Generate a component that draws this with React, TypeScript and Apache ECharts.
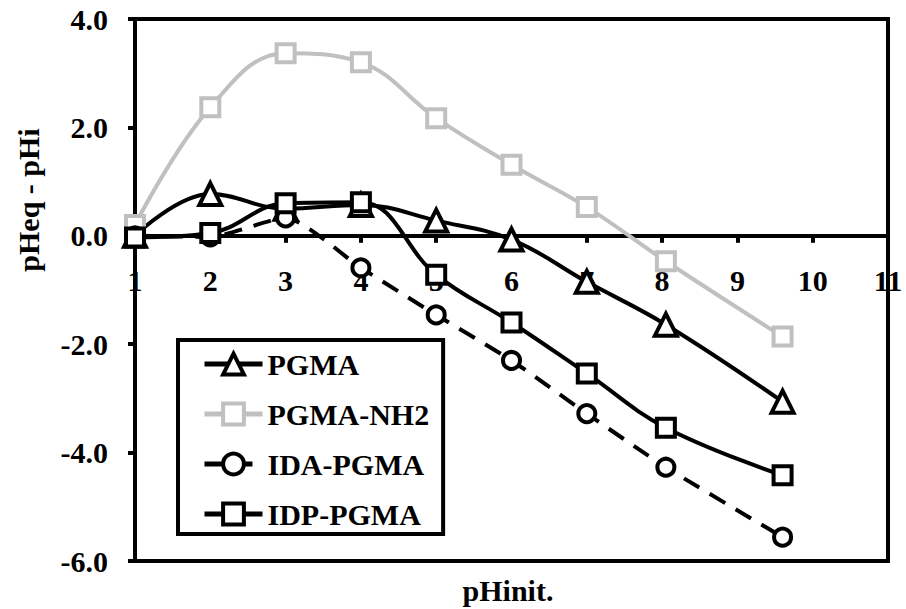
import React, { useEffect, useRef } from "react";
import * as echarts from "echarts";

const xPGMA = [1, 2, 3, 4, 5, 6, 7, 8.05, 9.6];
const yPGMA = [0, 0.77, 0.5, 0.57, 0.28, -0.07, -0.85, -1.64, -3.06];
const yPGMANH2 = [0.2, 2.37, 3.37, 3.2, 2.17, 1.31, 0.53, -0.47, -1.86];
const yIDA = [0, -0.02, 0.33, -0.59, -1.46, -2.3, -3.28, -4.27, -5.56];
const yIDP = [-0.03, 0.05, 0.6, 0.62, -0.72, -1.6, -2.54, -3.54, -4.42];

const seriesNames = ["PGMA", "PGMA-NH2", "IDA-PGMA", "IDP-PGMA"];
const yTickMin = -6;
const yTickMax = 4;
const xTickMin = 1;
const xTickMax = 11;

const FONT = "Liberation Serif";
const GRAY = "#c0c0c0";

function pairs(xs: number[], ys: number[]) {
  return xs.map((x, i) => [x, ys[i]]);
}

const GRID_TOP = 19;
const GRID_BOTTOM = 48;
const CHART_H = 609;

export default function App() {
  const ref = useRef<HTMLDivElement>(null);
  useEffect(() => {
    if (!ref.current) return;
    const chart = echarts.init(ref.current, null, { renderer: "svg" });
    const textBase = { fontFamily: FONT, fontWeight: "bold" as const, fontSize: 30, color: "#000" };
    const plotH = CHART_H - GRID_TOP - GRID_BOTTOM;
    const zeroOffset = -(plotH * (0 - yTickMin)) / (yTickMax - yTickMin);
    chart.setOption({
      animation: false,
      backgroundColor: "#fff",
      grid: {
        left: 135,
        top: GRID_TOP,
        right: 18,
        bottom: GRID_BOTTOM,
        show: true,
        borderColor: "#000",
        borderWidth: 4,
      },
      xAxis: {
        type: "value",
        min: xTickMin,
        max: xTickMax,
        interval: 1,
        offset: zeroOffset,
        axisLine: { onZero: false, lineStyle: { color: "#000", width: 4 } },
        axisTick: { show: true, length: 7, lineStyle: { color: "#000", width: 4 } },
        axisLabel: { ...textBase, margin: 30, showMinLabel: true, showMaxLabel: true },
        splitLine: { show: false },
      },
      yAxis: {
        type: "value",
        min: yTickMin,
        max: yTickMax,
        interval: 2,
        axisLine: { onZero: false, lineStyle: { color: "#000", width: 4 } },
        axisTick: { show: true, length: 7, lineStyle: { color: "#000", width: 4 } },
        axisLabel: { ...textBase, margin: 27, formatter: (v: number) => v.toFixed(1) },
        splitLine: { show: false },
      },
      legend: {
        orient: "vertical",
        left: 178,
        top: 340,
        itemWidth: 58,
        itemHeight: 26,
        itemGap: 20,
        padding: [9, 14, 5, 24],
        borderColor: "#000",
        borderWidth: 4,
        backgroundColor: "#fff",
        textStyle: { ...textBase },
        itemStyle: { borderWidth: 4 },
        lineStyle: { width: 5 },
        data: seriesNames,
      },
      graphic: [
        {
          type: "text",
          x: 28,
          y: 200,
          rotation: Math.PI / 2,
          style: {
            text: "pHeq - pHi",
            fontFamily: FONT,
            fontWeight: "bold",
            fontSize: 30,
            fill: "#000",
            textAlign: "center",
            textVerticalAlign: "middle",
          },
        },
        {
          type: "text",
          x: 508,
          y: 590,
          style: {
            text: "pHinit.",
            fontFamily: FONT,
            fontWeight: "bold",
            fontSize: 30,
            fill: "#000",
            textAlign: "center",
            textVerticalAlign: "middle",
          },
        },
      ],
      series: [
        {
          name: seriesNames[0],
          type: "line",
          smooth: 0.4,
          data: pairs(xPGMA, yPGMA),
          symbol: "triangle",
          symbolSize: 22,
          lineStyle: { color: "#000", width: 4 },
          itemStyle: { color: "#fff", borderColor: "#000", borderWidth: 4 },
        },
        {
          name: seriesNames[1],
          type: "line",
          smooth: 0.4,
          data: pairs(xPGMA, yPGMANH2),
          symbol: "rect",
          symbolSize: 18,
          lineStyle: { color: GRAY, width: 4 },
          itemStyle: { color: "#fff", borderColor: GRAY, borderWidth: 4 },
        },
        {
          name: seriesNames[2],
          type: "line",
          smooth: 0.2,
          data: pairs(xPGMA, yIDA),
          symbol: "circle",
          symbolSize: 17,
          lineStyle: { color: "#000", width: 4, type: [18, 12] },
          itemStyle: { color: "#fff", borderColor: "#000", borderWidth: 4 },
        },
        {
          name: seriesNames[3],
          type: "line",
          smooth: 0.4,
          data: pairs(xPGMA, yIDP),
          symbol: "rect",
          symbolSize: 18,
          lineStyle: { color: "#000", width: 4 },
          itemStyle: { color: "#fff", borderColor: "#000", borderWidth: 4 },
        },
      ],
    });
    return () => chart.dispose();
  }, []);
  return <div ref={ref} style={{ width: 906, height: 609, position: "absolute", left: 0, top: 0 }} />;
}
